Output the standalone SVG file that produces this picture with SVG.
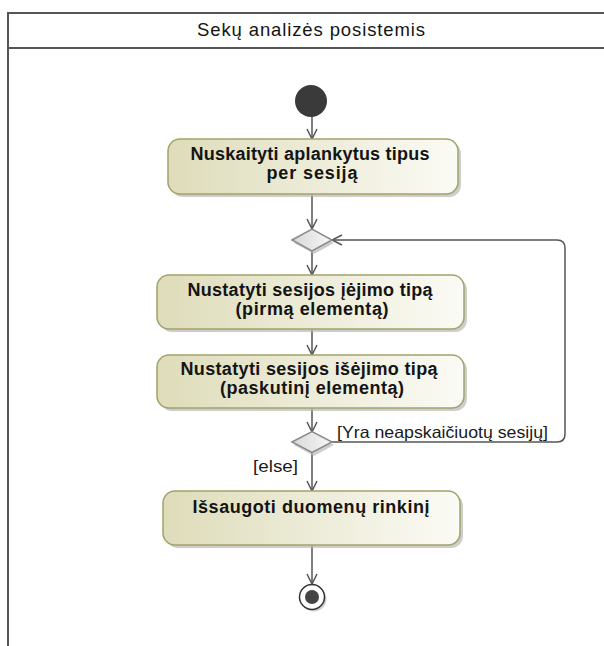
<svg xmlns="http://www.w3.org/2000/svg" width="604" height="646" viewBox="0 0 604 646">
  <style>
    .frame { fill: none; stroke: #555; stroke-width: 2; }
    .act { fill: url(#actFill); stroke: #a2a26a; stroke-width: 1.5; }
    .shadow { fill: #b8b8b8; opacity: 0.7; }
    .dec { fill: url(#decFill); stroke: #8a8a8a; stroke-width: 1.5; }
    .edge { fill: none; stroke: #555; stroke-width: 1.5; }
    .lbl { font-family: "Liberation Sans", Arial, sans-serif; font-size: 18px; font-weight: bold; fill: #141414; text-anchor: middle; }
    .title { font-family: "Liberation Sans", Arial, sans-serif; font-size: 18.5px; fill: #141414; text-anchor: middle; }
    .guard { font-family: "Liberation Sans", Arial, sans-serif; font-size: 16.5px; fill: #1a1a1a; }
  </style>
  <defs>
    <linearGradient id="actFill" x1="0" y1="0" x2="1" y2="0">
      <stop offset="0" stop-color="#dedcb9"/>
      <stop offset="1" stop-color="#fbfbf6"/>
    </linearGradient>
    <linearGradient id="decFill" x1="0" y1="0" x2="1" y2="0">
      <stop offset="0" stop-color="#d8d8d8"/>
      <stop offset="1" stop-color="#f7f7f7"/>
    </linearGradient>
    <marker id="open" viewBox="0 0 12 12" refX="11" refY="6" markerWidth="12" markerHeight="12" markerUnits="userSpaceOnUse" orient="auto">
      <path d="M1,1 L11,6 L1,11" fill="none" stroke="#555" stroke-width="1.5"/>
    </marker>
  </defs>

  <rect width="604" height="646" fill="#ffffff"/>

  <!-- activity partition frame -->
  <g id="frame">
    <path class="frame" d="M8,660 L8,13 L620,13"/>
    <line class="frame" x1="8" y1="48" x2="620" y2="48"/>
    <text class="title" x="311" y="36" textLength="228" lengthAdjust="spacing">Sekų analizės posistemis</text>
  </g>

  <!-- connectors -->
  <g id="connectors">
    <line class="edge" x1="312" y1="117" x2="312" y2="139" marker-end="url(#open)"/>
    <line class="edge" x1="312" y1="194" x2="312" y2="229" marker-end="url(#open)"/>
    <line class="edge" x1="312" y1="251" x2="312" y2="275" marker-end="url(#open)"/>
    <line class="edge" x1="312" y1="329" x2="312" y2="355" marker-end="url(#open)"/>
    <line class="edge" x1="312" y1="408" x2="312" y2="432" marker-end="url(#open)"/>
    <path class="edge" d="M332,442 L557,442 Q565,442 565,434 L565,248 Q565,240 557,240 L332,240" marker-end="url(#open)"/>
    <line class="edge" x1="312" y1="452" x2="312" y2="491" marker-end="url(#open)"/>
    <line class="edge" x1="312" y1="545" x2="312" y2="584" marker-end="url(#open)"/>
    <text class="guard" x="337" y="438" textLength="211" lengthAdjust="spacingAndGlyphs">[Yra neapskaičiuotų sesijų]</text>
    <text class="guard" x="253" y="472" textLength="45" lengthAdjust="spacingAndGlyphs">[else]</text>
  </g>

  <!-- initial node -->
  <g id="start">
    <circle cx="311" cy="101" r="16" fill="#3a3a3a"/>
  </g>

  <!-- read visited types per session -->
  <g id="readTypes">
    <rect class="shadow" x="171" y="142" width="290" height="55" rx="12"/>
    <rect class="act" x="168" y="139" width="290" height="55" rx="12"/>
    <text class="lbl" x="310" y="160" textLength="239" lengthAdjust="spacing">Nuskaityti aplankytus tipus</text>
    <text class="lbl" x="312" y="179" textLength="91" lengthAdjust="spacing">per sesiją</text>
  </g>

  <!-- loop merge -->
  <g id="merge">
    <path class="shadow" d="M294,243 L314,232 L334,243 L314,254 Z"/>
    <path class="dec" d="M292,240 L312,229 L332,240 L312,251 Z"/>
  </g>

  <!-- session entry type -->
  <g id="entryType">
    <rect class="shadow" x="160" y="278" width="307" height="54" rx="12"/>
    <rect class="act" x="157" y="275" width="307" height="54" rx="12"/>
    <text class="lbl" x="310" y="296" textLength="245" lengthAdjust="spacing">Nustatyti sesijos įėjimo tipą</text>
    <text class="lbl" x="312" y="315" textLength="153" lengthAdjust="spacing">(pirmą elementą)</text>
  </g>

  <!-- session exit type -->
  <g id="exitType">
    <rect class="shadow" x="160" y="358" width="307" height="53" rx="12"/>
    <rect class="act" x="157" y="355" width="307" height="53" rx="12"/>
    <text class="lbl" x="309" y="375" textLength="257" lengthAdjust="spacing">Nustatyti sesijos išėjimo tipą</text>
    <text class="lbl" x="312" y="394" textLength="184" lengthAdjust="spacing">(paskutinį elementą)</text>
  </g>

  <!-- loop decision -->
  <g id="decision">
    <path class="shadow" d="M294,445 L314,434 L334,445 L314,456 Z"/>
    <path class="dec" d="M292,442 L312,431.5 L332,442 L312,452.5 Z"/>
  </g>

  <!-- save dataset -->
  <g id="saveData">
    <rect class="shadow" x="166" y="494" width="297" height="54" rx="12"/>
    <rect class="act" x="163" y="491" width="297" height="54" rx="12"/>
    <text class="lbl" x="311" y="513" textLength="237" lengthAdjust="spacing">Išsaugoti duomenų rinkinį</text>
  </g>

  <!-- final node -->
  <g id="end">
    <circle cx="314" cy="599" r="12.5" fill="#bdbdbd" opacity="0.7"/>
    <circle cx="312" cy="597" r="12.5" fill="#ffffff" stroke="#333" stroke-width="1.5"/>
    <circle cx="312" cy="597" r="7" fill="#444"/>
  </g>
</svg>
